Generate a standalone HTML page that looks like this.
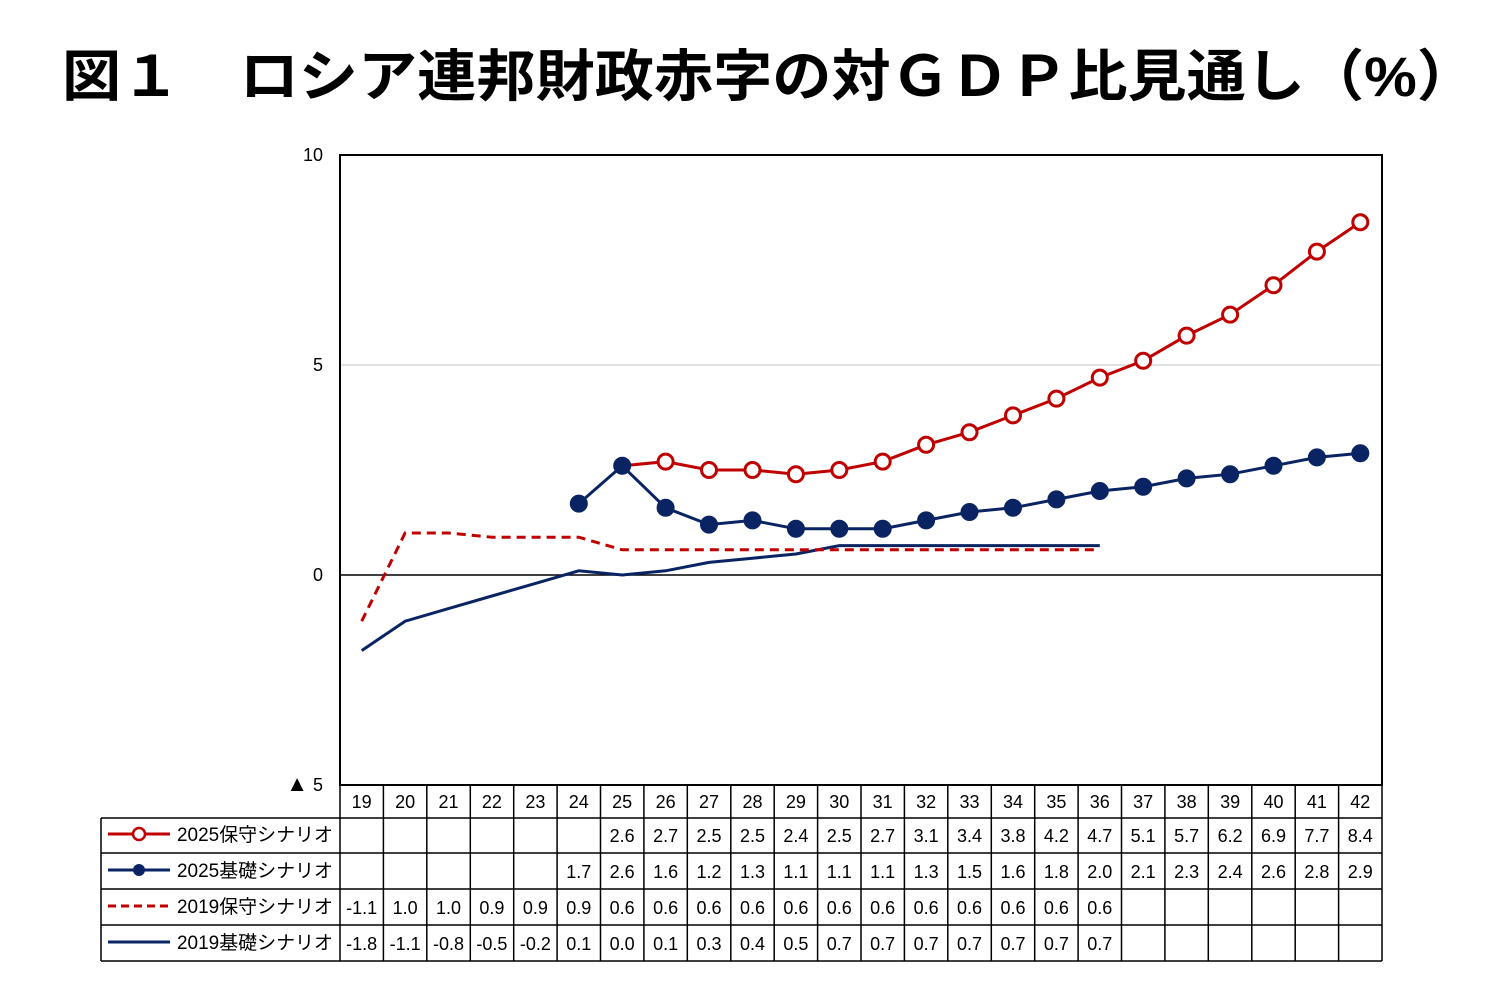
<!DOCTYPE html>
<html><head><meta charset="utf-8"><style>
html,body{margin:0;padding:0;background:#fff}
svg text{font-family:"Liberation Sans","Noto Sans CJK JP",sans-serif}
</style></head><body>
<svg width="1500" height="1000" xmlns="http://www.w3.org/2000/svg">
<text x="62" y="96" font-size="56" font-weight="bold" textLength="1414" lengthAdjust="spacingAndGlyphs" style="font-family:'Liberation Sans','Noto Sans CJK JP',sans-serif">図１　ロシア連邦財政赤字の対ＧＤＰ比見通し（%）</text>
<!-- grid -->
<line x1="340" y1="365" x2="1382" y2="365" stroke="#d9d9d9" stroke-width="1.5"/>
<line x1="340" y1="575" x2="1382" y2="575" stroke="#000" stroke-width="1.5"/>
<rect x="340" y="155" width="1042" height="630" fill="none" stroke="#000" stroke-width="2"/>
<g font-size="18" text-anchor="end">
<text x="323" y="161">10</text><text x="323" y="371">5</text><text x="323" y="581">0</text><text x="323" y="791"><tspan font-size="22">▲</tspan> 5</text>
</g>
<!-- series -->
<polyline fill="none" stroke="#0a2463" stroke-width="3" points="361.7,650.6 405.1,621.2 448.5,608.6 491.9,596 535.4,583.4 578.8,570.8 622.2,575 665.6,570.8 709,562.4 752.5,558.2 795.9,554 839.3,545.6 882.7,545.6 926.1,545.6 969.5,545.6 1013,545.6 1056.4,545.6 1099.8,545.6"/>
<polyline fill="none" stroke="#c00000" stroke-width="3" stroke-dasharray="9,6" points="361.7,621.2 405.1,533 448.5,533 491.9,537.2 535.4,537.2 578.8,537.2 622.2,549.8 665.6,549.8 709,549.8 752.5,549.8 795.9,549.8 839.3,549.8 882.7,549.8 926.1,549.8 969.5,549.8 1013,549.8 1056.4,549.8 1099.8,549.8"/>
<g fill="#fff" stroke="#c00000" stroke-width="3">
<polyline fill="none" points="622.2,465.8 665.6,461.6 709,470 752.5,470 795.9,474.2 839.3,470 882.7,461.6 926.1,444.8 969.5,432.2 1013,415.4 1056.4,398.6 1099.8,377.6 1143.2,360.8 1186.6,335.6 1230.1,314.6 1273.5,285.2 1316.9,251.6 1360.3,222.2"/>
<circle cx="665.6" cy="461.6" r="7.5"/><circle cx="709" cy="470" r="7.5"/><circle cx="752.5" cy="470" r="7.5"/><circle cx="795.9" cy="474.2" r="7.5"/><circle cx="839.3" cy="470" r="7.5"/><circle cx="882.7" cy="461.6" r="7.5"/><circle cx="926.1" cy="444.8" r="7.5"/><circle cx="969.5" cy="432.2" r="7.5"/><circle cx="1013" cy="415.4" r="7.5"/><circle cx="1056.4" cy="398.6" r="7.5"/><circle cx="1099.8" cy="377.6" r="7.5"/><circle cx="1143.2" cy="360.8" r="7.5"/><circle cx="1186.6" cy="335.6" r="7.5"/><circle cx="1230.1" cy="314.6" r="7.5"/><circle cx="1273.5" cy="285.2" r="7.5"/><circle cx="1316.9" cy="251.6" r="7.5"/><circle cx="1360.3" cy="222.2" r="7.5"/>
</g>
<g fill="#0a2463" stroke="#0a2463" stroke-width="3">
<polyline fill="none" points="578.8,503.6 622.2,465.8 665.6,507.8 709,524.6 752.5,520.4 795.9,528.8 839.3,528.8 882.7,528.8 926.1,520.4 969.5,512 1013,507.8 1056.4,499.4 1099.8,491 1143.2,486.8 1186.6,478.4 1230.1,474.2 1273.5,465.8 1316.9,457.4 1360.3,453.2"/>
<circle cx="578.8" cy="503.6" r="7.5"/><circle cx="622.2" cy="465.8" r="7.5"/><circle cx="665.6" cy="507.8" r="7.5"/><circle cx="709" cy="524.6" r="7.5"/><circle cx="752.5" cy="520.4" r="7.5"/><circle cx="795.9" cy="528.8" r="7.5"/><circle cx="839.3" cy="528.8" r="7.5"/><circle cx="882.7" cy="528.8" r="7.5"/><circle cx="926.1" cy="520.4" r="7.5"/><circle cx="969.5" cy="512" r="7.5"/><circle cx="1013" cy="507.8" r="7.5"/><circle cx="1056.4" cy="499.4" r="7.5"/><circle cx="1099.8" cy="491" r="7.5"/><circle cx="1143.2" cy="486.8" r="7.5"/><circle cx="1186.6" cy="478.4" r="7.5"/><circle cx="1230.1" cy="474.2" r="7.5"/><circle cx="1273.5" cy="465.8" r="7.5"/><circle cx="1316.9" cy="457.4" r="7.5"/><circle cx="1360.3" cy="453.2" r="7.5"/>
</g>
<!-- table -->
<g stroke="#000" stroke-width="1.5">
<line x1="340" y1="785" x2="340" y2="961"/>
<line x1="101" y1="818" x2="1382" y2="818"/><line x1="101" y1="853" x2="1382" y2="853"/><line x1="101" y1="889" x2="1382" y2="889"/><line x1="101" y1="925" x2="1382" y2="925"/><line x1="101" y1="961" x2="1382" y2="961"/>
<line x1="101" y1="818" x2="101" y2="961"/><line x1="1382" y1="785" x2="1382" y2="961"/>
<line x1="383.4" y1="785" x2="383.4" y2="961"/><line x1="426.8" y1="785" x2="426.8" y2="961"/><line x1="470.3" y1="785" x2="470.3" y2="961"/><line x1="513.7" y1="785" x2="513.7" y2="961"/><line x1="557.1" y1="785" x2="557.1" y2="961"/><line x1="600.5" y1="785" x2="600.5" y2="961"/><line x1="643.9" y1="785" x2="643.9" y2="961"/><line x1="687.3" y1="785" x2="687.3" y2="961"/><line x1="730.8" y1="785" x2="730.8" y2="961"/><line x1="774.2" y1="785" x2="774.2" y2="961"/><line x1="817.6" y1="785" x2="817.6" y2="961"/><line x1="861" y1="785" x2="861" y2="961"/><line x1="904.4" y1="785" x2="904.4" y2="961"/><line x1="947.8" y1="785" x2="947.8" y2="961"/><line x1="991.3" y1="785" x2="991.3" y2="961"/><line x1="1034.7" y1="785" x2="1034.7" y2="961"/><line x1="1078.1" y1="785" x2="1078.1" y2="961"/><line x1="1121.5" y1="785" x2="1121.5" y2="961"/><line x1="1164.9" y1="785" x2="1164.9" y2="961"/><line x1="1208.3" y1="785" x2="1208.3" y2="961"/><line x1="1251.8" y1="785" x2="1251.8" y2="961"/><line x1="1295.2" y1="785" x2="1295.2" y2="961"/><line x1="1338.6" y1="785" x2="1338.6" y2="961"/>
</g>
<!-- legend symbols -->
<line x1="108" y1="834" x2="170" y2="834" stroke="#c00000" stroke-width="3"/><circle cx="139" cy="834" r="6" fill="#fff" stroke="#c00000" stroke-width="2.5"/>
<line x1="108" y1="870" x2="170" y2="870" stroke="#0a2463" stroke-width="3"/><circle cx="139" cy="870" r="6" fill="#0a2463"/>
<line x1="108" y1="906" x2="170" y2="906" stroke="#c00000" stroke-width="3" stroke-dasharray="8,5"/>
<line x1="108" y1="942" x2="170" y2="942" stroke="#0a2463" stroke-width="3"/>
<g font-size="19">
<text x="177" y="841" textLength="156" lengthAdjust="spacingAndGlyphs">2025保守シナリオ</text>
<text x="177" y="877" textLength="156" lengthAdjust="spacingAndGlyphs">2025基礎シナリオ</text>
<text x="177" y="913" textLength="156" lengthAdjust="spacingAndGlyphs">2019保守シナリオ</text>
<text x="177" y="949" textLength="156" lengthAdjust="spacingAndGlyphs">2019基礎シナリオ</text>
</g>
<g font-size="18" text-anchor="middle">
<text y="808"><tspan x="361.7">19</tspan><tspan x="405.1">20</tspan><tspan x="448.5">21</tspan><tspan x="491.9">22</tspan><tspan x="535.4">23</tspan><tspan x="578.8">24</tspan><tspan x="622.2">25</tspan><tspan x="665.6">26</tspan><tspan x="709">27</tspan><tspan x="752.5">28</tspan><tspan x="795.9">29</tspan><tspan x="839.3">30</tspan><tspan x="882.7">31</tspan><tspan x="926.1">32</tspan><tspan x="969.5">33</tspan><tspan x="1013">34</tspan><tspan x="1056.4">35</tspan><tspan x="1099.8">36</tspan><tspan x="1143.2">37</tspan><tspan x="1186.6">38</tspan><tspan x="1230.1">39</tspan><tspan x="1273.5">40</tspan><tspan x="1316.9">41</tspan><tspan x="1360.3">42</tspan></text>
<text y="842"><tspan x="622.2">2.6</tspan><tspan x="665.6">2.7</tspan><tspan x="709">2.5</tspan><tspan x="752.5">2.5</tspan><tspan x="795.9">2.4</tspan><tspan x="839.3">2.5</tspan><tspan x="882.7">2.7</tspan><tspan x="926.1">3.1</tspan><tspan x="969.5">3.4</tspan><tspan x="1013">3.8</tspan><tspan x="1056.4">4.2</tspan><tspan x="1099.8">4.7</tspan><tspan x="1143.2">5.1</tspan><tspan x="1186.6">5.7</tspan><tspan x="1230.1">6.2</tspan><tspan x="1273.5">6.9</tspan><tspan x="1316.9">7.7</tspan><tspan x="1360.3">8.4</tspan></text>
<text y="878"><tspan x="578.8">1.7</tspan><tspan x="622.2">2.6</tspan><tspan x="665.6">1.6</tspan><tspan x="709">1.2</tspan><tspan x="752.5">1.3</tspan><tspan x="795.9">1.1</tspan><tspan x="839.3">1.1</tspan><tspan x="882.7">1.1</tspan><tspan x="926.1">1.3</tspan><tspan x="969.5">1.5</tspan><tspan x="1013">1.6</tspan><tspan x="1056.4">1.8</tspan><tspan x="1099.8">2.0</tspan><tspan x="1143.2">2.1</tspan><tspan x="1186.6">2.3</tspan><tspan x="1230.1">2.4</tspan><tspan x="1273.5">2.6</tspan><tspan x="1316.9">2.8</tspan><tspan x="1360.3">2.9</tspan></text>
<text y="914"><tspan x="361.7">-1.1</tspan><tspan x="405.1">1.0</tspan><tspan x="448.5">1.0</tspan><tspan x="491.9">0.9</tspan><tspan x="535.4">0.9</tspan><tspan x="578.8">0.9</tspan><tspan x="622.2">0.6</tspan><tspan x="665.6">0.6</tspan><tspan x="709">0.6</tspan><tspan x="752.5">0.6</tspan><tspan x="795.9">0.6</tspan><tspan x="839.3">0.6</tspan><tspan x="882.7">0.6</tspan><tspan x="926.1">0.6</tspan><tspan x="969.5">0.6</tspan><tspan x="1013">0.6</tspan><tspan x="1056.4">0.6</tspan><tspan x="1099.8">0.6</tspan></text>
<text y="950"><tspan x="361.7">-1.8</tspan><tspan x="405.1">-1.1</tspan><tspan x="448.5">-0.8</tspan><tspan x="491.9">-0.5</tspan><tspan x="535.4">-0.2</tspan><tspan x="578.8">0.1</tspan><tspan x="622.2">0.0</tspan><tspan x="665.6">0.1</tspan><tspan x="709">0.3</tspan><tspan x="752.5">0.4</tspan><tspan x="795.9">0.5</tspan><tspan x="839.3">0.7</tspan><tspan x="882.7">0.7</tspan><tspan x="926.1">0.7</tspan><tspan x="969.5">0.7</tspan><tspan x="1013">0.7</tspan><tspan x="1056.4">0.7</tspan><tspan x="1099.8">0.7</tspan></text>
</g>
</svg>
</body></html>
